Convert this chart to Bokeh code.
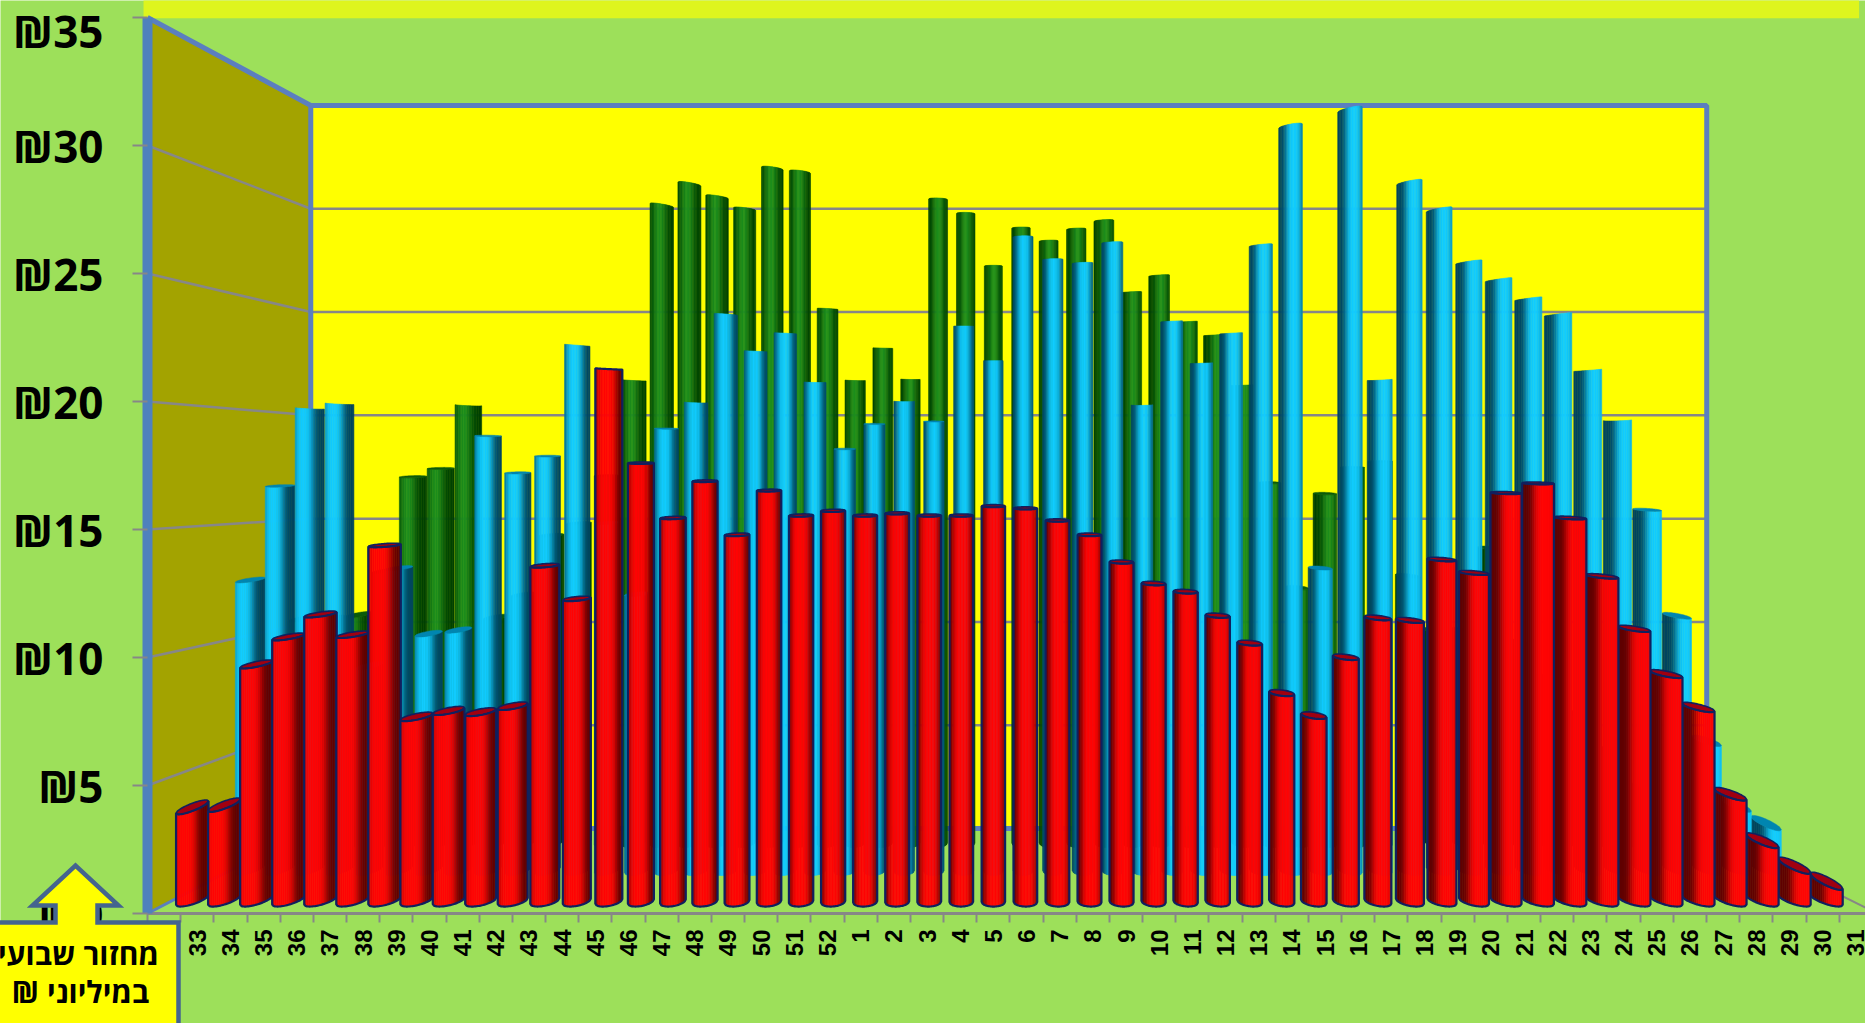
import math
from bokeh.plotting import figure
from bokeh.models import ColumnDataSource, FixedTicker, PrintfTickFormatter
from bokeh.core.properties import value
from bokeh.embed import file_html
from bokeh.resources import INLINE

weeks = [32,33,34,35,36,37,38,39,40,41,42,43,44,45,46,47,48,49,50,51,52,
         1,2,3,4,5,6,7,8,9,10,11,12,13,14,15,16,17,18,19,20,21,22,23,24,25,26,27,28,29,30,31]

green = [10.54,10.54,10.71,12.77,17.19,17.58,20.54,10.6,11.66,14.45,15.01,17.24,21.71,29.92,30.92,30.31,29.75,
         31.65,31.48,25.06,21.71,23.22,21.76,30.2,29.53,27.07,28.85,28.24,28.8,29.19,25.84,26.62,24.45,23.83,
         21.49,16.91,11.99,16.4,17.63,17.91,12.55,9.98,9.98,13.84,9.42,7.75,6.07,4.4,2.72,1.05,0.49,0.21]
blue = [12.69,16.79,20.17,20.37,8.95,13.21,10.35,10.51,18.97,17.36,18.09,22.92,15.18,12.07,19.29,20.43,
        24.27,22.66,23.44,21.31,18.4,19.49,20.48,19.6,23.75,22.25,27.65,26.66,26.5,27.39,20.32,23.96,
        22.14,23.44,27.28,32.48,13.21,33.2,21.41,30.03,28.84,26.55,25.78,24.95,24.27,21.83,19.65,15.75,
        11.13,5.68,2.87,2.09]
red = [3.83,3.92,9.61,10.72,11.63,10.81,14.42,7.49,7.73,7.68,7.92,13.6,12.26,21.55,17.75,15.53,17.02,
       14.85,16.64,15.63,15.82,15.63,15.72,15.63,15.63,16.01,15.92,15.43,14.85,13.75,12.88,12.55,11.58,
       10.47,8.45,7.54,9.9,11.49,11.39,13.85,13.31,16.54,16.93,15.53,13.17,11.05,9.22,7.87,4.36,2.48,1.47,0.84]
y_ticks = [0,5,10,15,20,25,30,35]
callout_lines = ["מחזור שבועי", "במיליוני ₪\u200f"]

BG = "#9DE05A"; BORDER = "#4F81BD"; GRID = "#878787"
PX_X, PX_Y = 33.17, 25.6          # pixels per category / per shekel on the front plane
VX, VH = 25.0, 17.2               # vanishing point of the 3D view
S_RED, S_BLUE, S_GREEN, S_BACK = 0.966, 0.896, 0.833, 0.807
DROP = 0.13
EDGE_L, EDGE_R = -0.5, 51.65

def px(i, s): return VX + (i - VX) * s
def py(v, s): return VH + (v - VH) * s
def scr(y): return 913 - y * PX_Y   # data y to screen y, for the shape of the tops

def hexc(c): return tuple(int(c[k:k+2], 16) for k in (1, 3, 5))
def mix(a, b, f):
    a, b = hexc(a), hexc(b)
    return "#%02x%02x%02x" % tuple(int(round(a[k] + (b[k] - a[k]) * f)) for k in range(3))

src = dict(xs=[], ys=[], fc=[], fa=[], lc=[], lw=[])
def add(xs, ys, fc, fa, lc, lw):
    src["xs"].append(xs); src["ys"].append(ys); src["fc"].append(fc)
    src["fa"].append(fa); src["lc"].append(lc); src["lw"].append(lw)

def shape(i, y):
    sy = scr(y)
    tilt = 0.017 * (i - 25) / 25 * (sy - 450)
    b = 0.0085 * (sy - 350)
    return b, tilt

def front(u, yc, b, tilt):
    return yc - (b * math.sqrt(max(0, 1 - u * u)) + tilt * u) / PX_Y
def rear(u, yc, b, tilt):
    return yc - (-b * math.sqrt(max(0, 1 - u * u)) + tilt * u) / PX_Y

def cylinder(i, v, s, w, bright, dark, cap, outline=None, N=16, sigma=0.4, power=4):
    xc = px(i, s); hw = w / 2 / PX_X
    yt = py(v, s) - DROP; yb = py(0, s) - DROP
    bt, tt = shape(i, yt); bb, tb = shape(i, yb)
    tb *= 0.65
    yb += (math.hypot(bb, tb) - bb) / PX_Y     # all bottoms rest on the same lowest line
    h = 0.27 + 0.56 * i / 51
    for k in range(N):
        u0 = -1 + 2 * k / N; u1 = -1 + 2 * (k + 1) / N
        t = (k + 0.5) / N
        col = mix(dark, bright, math.exp(-(abs(t - h) / sigma) ** power))
        add([xc + hw * u0, xc + hw * u1, xc + hw * u1, xc + hw * u0],
            [front(u0, yt, bt, tt), front(u1, yt, bt, tt), front(u1, yb, bb, tb), front(u0, yb, bb, tb)],
            col, 1, col, 0.6)
    us = [-1 + 2 * k / 24 for k in range(25)]
    if bt > 0.6:
        add([xc + hw * u for u in us] + [xc + hw * u for u in reversed(us)],
            [front(u, yt, bt, tt) for u in us] + [rear(u, yt, bt, tt) for u in reversed(us)],
            cap, 1, outline or cap, 1.6 if outline else 0.5)
    if outline:
        add([xc + hw * u for u in us] + [xc + hw * u for u in reversed(us)],
            [front(u, yt, bt, tt) for u in us] + [front(u, yb, bb, tb) for u in reversed(us)],
            "#000000", 0, outline, 2.2)

def row(vals, s, wf, bright, dark, cap, outline=None, sigma=0.4, power=4):
    order = list(range(0, 26)) + list(range(51, 25, -1))
    for i in order:
        cylinder(i, vals[i], s, wf(abs(i - 25)), bright, dark, cap, outline, sigma=sigma, power=power)

def interp(d, xp, fp):
    for k in range(1, len(xp)):
        if d <= xp[k]:
            return fp[k-1] + (fp[k] - fp[k-1]) * (d - xp[k-1]) / (xp[k] - xp[k-1])
    return fp[-1]

row(green, S_GREEN, lambda d: 18 + 9.5 * d / 21, "#1E8F1E", "#004000", "#0A5A0A", sigma=0.3, power=2)
row(blue, S_BLUE, lambda d: 19.5 + 10.5 * d / 25, "#12CCFF", "#00455F", "#0085B0", sigma=0.36, power=3)
row(red, S_RED, lambda d: interp(d, [0,7,11,13,16,18], [23.5,24.5,26,28,31,32.5]), "#FF0505", "#600000", "#A00010", "#10205F")

x0 = (0 - 163.6) / PX_X; x1 = (1865 - 163.6) / PX_X
y0 = (913 - 1023) / PX_Y; y1 = (913 - 0) / PX_Y
p = figure(width=1865, height=1023, x_range=(x0, x1), y_range=(y0, y1), output_backend="svg",
           toolbar_location=None, min_border=0, background_fill_color=BG, border_fill_color=BG)
p.outline_line_color = None
p.grid.visible = False

# top strip
top_v = y_ticks[-1]
p.patch([EDGE_L - 0.12, 51.1, 51.1, EDGE_L - 0.12], [top_v - 0.03, top_v - 0.03, y1 + 1, y1 + 1], fill_color="#DEF51E", line_color=None)
# walls
p.patch([px(EDGE_L, 1), px(EDGE_L, 1), px(EDGE_L, S_BACK), px(EDGE_L, S_BACK)],
        [py(0, 1), py(top_v, 1), py(top_v, S_BACK), py(0, S_BACK)], fill_color="#A3A300", line_color=None)
p.patch([px(EDGE_L, S_BACK), px(EDGE_R, S_BACK), px(EDGE_R, S_BACK), px(EDGE_L, S_BACK)],
        [py(0, S_BACK), py(0, S_BACK), py(top_v, S_BACK), py(top_v, S_BACK)], fill_color="#FFFF00", line_color=None)
# gridlines
for v in y_ticks[1:-1]:
    p.line([px(EDGE_L, 1), px(EDGE_L, S_BACK), px(EDGE_R, S_BACK)], [py(v, 1), py(v, S_BACK), py(v, S_BACK)],
           line_color=GRID, line_width=2.5)
# wall edges
p.line([px(EDGE_L, 1), px(EDGE_L, S_BACK), px(EDGE_R, S_BACK), px(EDGE_R, S_BACK), px(EDGE_L, S_BACK), px(EDGE_L, S_BACK)],
       [py(top_v, 1), py(top_v, S_BACK), py(top_v, S_BACK), py(0, S_BACK), py(0, S_BACK), py(top_v, S_BACK)],
       line_color="#5B7FBF", line_width=5)
p.line([px(EDGE_L, 1), px(EDGE_L, S_BACK)], [py(0, 1), py(0, S_BACK)], line_color="#5B7FBF", line_width=3)
p.line([px(EDGE_R, S_BACK), px(EDGE_R, 1)], [py(0, S_BACK), py(0, 1)], line_color=GRID, line_width=2)

p.patches("xs", "ys", source=ColumnDataSource(src), fill_color="fc", fill_alpha="fa", line_color="lc", line_width="lw")

# axes, placed on the chart plane
yax = p.yaxis[0]
yax.fixed_location = EDGE_L
yax.ticker = FixedTicker(ticks=y_ticks)
yax.bounds = (0, top_v)
yax.formatter = PrintfTickFormatter(format="₪%d")
yax.major_label_text_font = "Open Sans"
yax.major_label_text_font_style = "bold"
yax.major_label_text_font_size = "44px"
yax.major_label_text_color = "#000000"
yax.major_label_standoff = 29
yax.axis_line_color = BORDER
yax.axis_line_width = 10
yax.major_tick_line_color = GRID
yax.major_tick_line_width = 2
yax.major_tick_out = 15
yax.major_tick_in = 0
yax.minor_tick_line_color = None

xax = p.xaxis[0]
xax.fixed_location = 0
centers = list(range(len(weeks)))
xax.ticker = FixedTicker(ticks=centers, minor_ticks=[c - 0.5 for c in centers])
xax.major_label_overrides = {c: str(w) for c, w in zip(centers, weeks)}
xax.major_label_orientation = math.pi / 2
xax.major_label_text_font = "Liberation Sans"
xax.major_label_text_font_style = "bold"
xax.major_label_text_font_size = "24px"
xax.major_label_text_color = "#000000"
xax.major_label_standoff = 7
xax.bounds = (EDGE_L, x1)
xax.axis_line_color = GRID
xax.axis_line_width = 3
xax.major_tick_line_color = None
xax.minor_tick_line_color = GRID
xax.minor_tick_line_width = 2
xax.minor_tick_out = 9
xax.minor_tick_in = 0

# callout over the lower left corner
def cx(sx): return (sx - 163.6) / PX_X
def cy(sy): return (913 - sy) / PX_Y
box_x = [-40, 178, 178, 97, 97, 118, 75, 32, 55, 55, -40]
box_y = [1060, 1060, 922, 922, 905, 905, 865, 905, 905, 922, 922]
p.patch([cx(v) for v in box_x], [cy(v) for v in box_y], fill_color="#FFFF00", line_color="#44648F", line_width=4.5,
        line_join="miter", level="overlay")
p.text([cx(78), cx(80)], [cy(953), cy(991)], text=callout_lines, text_align="center", text_baseline="middle",
       text_font=value("Open Sans"), text_font_style="bold", text_font_size="30px", text_color="#000000", level="overlay")

open("out.html", "w").write(file_html(p, INLINE))
